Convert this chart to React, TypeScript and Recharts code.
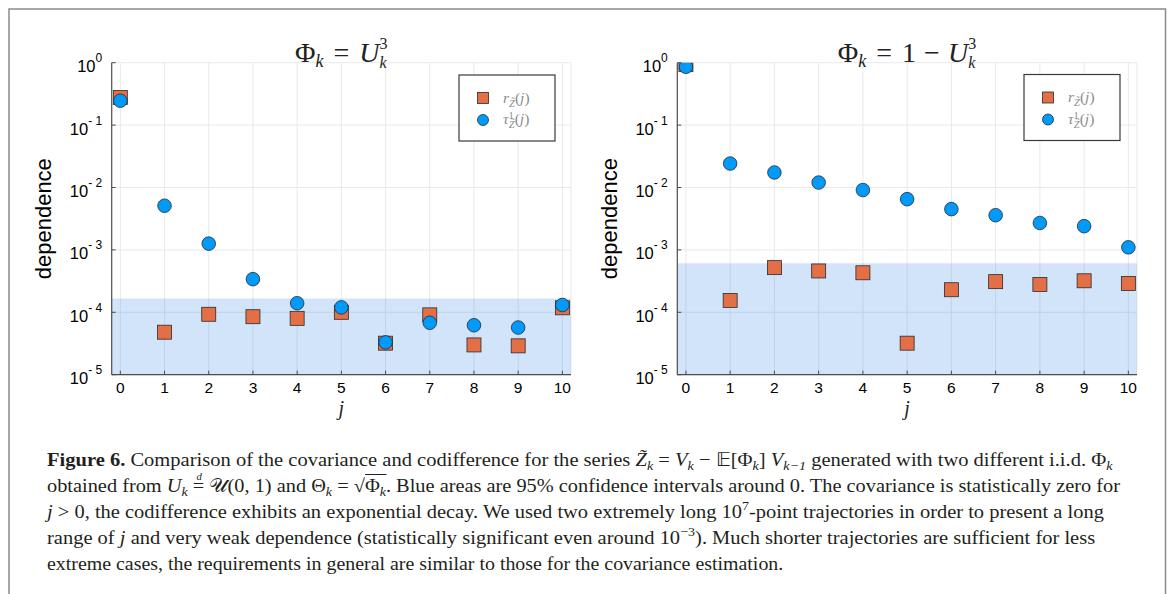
import React, { useLayoutEffect, useRef, useState } from 'react';
import { ScatterChart, Scatter, XAxis, YAxis, CartesianGrid, ReferenceArea } from 'recharts';

// ---------- data ----------
const lags = [0, 1, 2, 3, 4, 5, 6, 7, 8, 9, 10];
const yTicks = [1e-5, 1e-4, 1e-3, 1e-2, 1e-1, 1];

// left panel: Phi_k = U_k^3
const leftCovariance = [0.277, 4.8e-5, 9.3e-5, 8.5e-5, 8.0e-5, 1.0e-4, 3.2e-5, 9.1e-5, 3.0e-5, 2.9e-5, 1.18e-4];
const leftCodifference = [0.246, 5.1e-3, 1.26e-3, 3.4e-4, 1.4e-4, 1.2e-4, 3.3e-5, 6.8e-5, 6.2e-5, 5.7e-5, 1.31e-4];
const leftBandTop = 1.67e-4;

// right panel: Phi_k = 1 - U_k^3
const rightCovariance = [0.93, 1.55e-4, 5.2e-4, 4.6e-4, 4.3e-4, 3.2e-5, 2.3e-4, 3.1e-4, 2.8e-4, 3.2e-4, 2.9e-4];
const rightCodifference = [0.86, 0.0242, 0.0174, 0.012, 0.0091, 0.0065, 0.0045, 0.0036, 0.0027, 0.0024, 0.0011];
const rightBandTop = 6.1e-4;

const bandBottom = 1e-5;

// ---------- styles ----------
const AX = '#4d4d4d';
const ORANGE = '#E26F46';
const BLUE = '#009AFA';
const SANS = '"Liberation Sans", Arial, Helvetica, sans-serif';
const SERIF = '"Liberation Serif", "Times New Roman", serif';

const toPoints = (vals: number[]) => vals.map((v, i) => ({ j: lags[i], v }));

function XTick(props: any) {
  const { x, y, payload } = props;
  return (
    <g>
      <line x1={x} x2={x} y1={y} y2={y - 4} stroke={AX} strokeWidth={1} />
      <text x={x} y={y + 18.5} textAnchor="middle" fontSize={15.5} fontFamily={SANS} fill="#000">
        {payload.value}
      </text>
    </g>
  );
}

function YTick(props: any) {
  const { x, y, payload } = props;
  const e = Math.round(Math.log10(payload.value));
  const sup = e < 0 ? `- ${-e}` : `${e}`;
  return (
    <g>
      <line x1={x} x2={x + 4} y1={y} y2={y} stroke={AX} strokeWidth={1} />
      <text x={x - 9.5} y={y + 9.5} textAnchor="end" fontSize={16.5} fontFamily={SANS} fill="#000">
        10
        <tspan fontSize={12} dy={-10}>
          {sup}
        </tspan>
      </text>
    </g>
  );
}

const renderSquare = (p: any) => (
  <rect x={p.cx - 7} y={p.cy - 7} width={14} height={14} fill={ORANGE} stroke="#2b2b2b" strokeWidth={0.8} />
);
const renderCircle = (p: any) => (
  <circle cx={p.cx} cy={p.cy} r={6.8} fill={BLUE} stroke="#2b2b2b" strokeWidth={0.8} />
);

function Panel({ left, marginLeft, cov, codiff, bandTop }: any) {
  return (
    <div style={{ position: 'absolute', left, top: 0 }}>
      <ScatterChart width={600} height={430} margin={{ top: 62.7, right: 29, bottom: 15.3, left: marginLeft }}>
        <CartesianGrid stroke="#e9e9e9" strokeWidth={1} />
        <ReferenceArea y1={bandBottom} y2={bandTop} fill="#1f77e0" fillOpacity={0.2} stroke="none" ifOverflow="visible" />
        <XAxis
          dataKey="j"
          type="number"
          domain={[-0.195, 10.195]}
          ticks={lags}
          interval={0}
          allowDataOverflow
          tick={<XTick />}
          tickLine={false}
          tickSize={0}
          tickMargin={0}
          height={40}
          axisLine={{ stroke: AX, strokeWidth: 1.2 }}
          label={{
            value: 'j',
            position: 'insideBottom',
            offset: -0.5,
            style: { fontFamily: SERIF, fontStyle: 'italic', fontSize: 20, fill: '#222' },
          }}
        />
        <YAxis
          dataKey="v"
          type="number"
          scale="log"
          domain={[1e-5, 1]}
          ticks={yTicks}
          interval={0}
          allowDataOverflow
          tick={<YTick />}
          tickLine={false}
          tickSize={0}
          tickMargin={0}
          width={100}
          axisLine={{ stroke: AX, strokeWidth: 1.2 }}
          label={{
            value: 'dependence',
            angle: -90,
            position: 'insideLeft',
            offset: 31.5,
            style: { textAnchor: 'middle', fontFamily: SANS, fontSize: 22, fill: '#000' },
          }}
        />
        <Scatter data={toPoints(cov)} shape={renderSquare} isAnimationActive={false} />
        <Scatter data={toPoints(codiff)} shape={renderCircle} isAnimationActive={false} />
      </ScatterChart>
    </div>
  );
}

function LegendBox({ x, y }: { x: number; y: number }) {
  const tc = '#8c8c8c';
  return (
    <g transform={`translate(${x},${y})`}>
      <rect x={0} y={0} width={96} height={66} fill="#fff" stroke="#3a3a3a" strokeWidth={1.2} />
      <rect x={24 - 5.5} y={23 - 5.5} width={11} height={11} fill={ORANGE} stroke="#2b2b2b" strokeWidth={0.8} />
      <circle cx={24} cy={45} r={5.5} fill={BLUE} stroke="#2b2b2b" strokeWidth={0.8} />
      <text x={44} y={27.5} fontFamily={SERIF} fontSize={15.5} fill={tc}>
        <tspan fontStyle="italic">r</tspan>
        <tspan fontSize={10.5} fontStyle="italic" dy={4}>Z̃</tspan>
        <tspan dy={-4}>(</tspan>
        <tspan fontStyle="italic">j</tspan>
        <tspan>)</tspan>
      </text>
      <text x={44} y={49} fontFamily={SERIF} fontSize={15.5} fill={tc}>
        <tspan fontStyle="italic">τ</tspan>
        <tspan fontSize={10.5} dy={-5}>1</tspan>
        <tspan fontSize={10.5} fontStyle="italic" dx={-5} dy={9}>Z̃</tspan>
        <tspan dy={-4}>(</tspan>
        <tspan fontStyle="italic">j</tspan>
        <tspan>)</tspan>
      </text>
    </g>
  );
}

function FitLine({ left, baseline, width, children }: any) {
  const ref = useRef<HTMLDivElement>(null);
  const [s, setS] = useState(1);
  useLayoutEffect(() => {
    if (ref.current) {
      const w = ref.current.offsetWidth;
      if (w > 0) setS(width / w);
    }
  }, [width]);
  return (
    <div
      ref={ref}
      style={{
        position: 'absolute',
        left,
        top: baseline - 18.9,
        whiteSpace: 'nowrap',
        fontFamily: SERIF,
        fontSize: 19,
        lineHeight: '25px',
        color: '#231f20',
        transformOrigin: '0 0',
        transform: `scaleX(${s})`,
      }}
    >
      {children}
    </div>
  );
}

const sub = (t: any, italic = true) => (
  <span style={{ position: 'relative', top: 4, fontSize: 13, lineHeight: 0, fontStyle: italic ? 'italic' : 'normal' }}>{t}</span>
);
const sup = (t: any) => (
  <span style={{ position: 'relative', top: -8, fontSize: 13, lineHeight: 0 }}>{t}</span>
);
const it = (t: any) => <span style={{ fontStyle: 'italic' }}>{t}</span>;

export default function App() {
  return (
    <div style={{ position: 'absolute', left: 0, top: 0, width: 1171, height: 594, background: '#fff', overflow: 'hidden' }}>
      <Panel left={0} marginLeft={11.7} cov={leftCovariance} codiff={leftCodifference} bandTop={leftBandTop} />
      <Panel left={566} marginLeft={11.3} cov={rightCovariance} codiff={rightCodifference} bandTop={rightBandTop} />

      <svg width={1171} height={594} style={{ position: 'absolute', left: 0, top: 0, pointerEvents: 'none' }}>
        <rect x={9} y={9} width={1156.5} height={600} fill="none" stroke="#8a8a8a" strokeWidth={1.5} />

        <text x={341.3} y={61.5} textAnchor="middle" fontFamily={SERIF} fontSize={28} fill="#222">
          <tspan>Φ</tspan>
          <tspan fontSize={18} fontStyle="italic" dy={5}>k</tspan>
          <tspan dy={-5} dx={10}>=</tspan>
          <tspan fontStyle="italic" dx={10}>U</tspan>
          <tspan fontSize={16} dy={-12.5}>3</tspan>
          <tspan fontSize={16} fontStyle="italic" dx={-8} dy={19}>k</tspan>
        </text>

        <text x={907} y={61.5} textAnchor="middle" fontFamily={SERIF} fontSize={28} fill="#222">
          <tspan>Φ</tspan>
          <tspan fontSize={18} fontStyle="italic" dy={5}>k</tspan>
          <tspan dy={-5} dx={10}>=</tspan>
          <tspan dx={10}>1</tspan>
          <tspan dx={8}>−</tspan>
          <tspan fontStyle="italic" dx={8}>U</tspan>
          <tspan fontSize={16} dy={-12.5}>3</tspan>
          <tspan fontSize={16} fontStyle="italic" dx={-8} dy={19}>k</tspan>
        </text>

        <LegendBox x={459} y={75} />
        <LegendBox x={1024} y={74.5} />
      </svg>

      <FitLine left={47} baseline={466} width={1065}>
        <b>Figure 6.</b> Comparison of the covariance and codifference for the series {it('Z̃')}
        {sub('k')} = {it('V')}
        {sub('k')} − 𝔼[Φ{sub('k')}] {it('V')}
        {sub('k−1')} generated with two different i.i.d. Φ{sub('k')}
      </FitLine>
      <FitLine left={47} baseline={492} width={1073}>
        obtained from {it('U')}
        {sub('k')}{' '}
        <span style={{ position: 'relative', display: 'inline-block', lineHeight: 1 }}>
          =
          <span style={{ position: 'absolute', left: 3.5, top: -4, fontSize: 10, lineHeight: 1, fontStyle: 'italic' }}>d</span>
        </span>{' '}
        𝒰(0, 1) and Θ{sub('k')} = √<span style={{ borderTop: '1px solid #231f20' }}>Φ{sub('k')}</span>. Blue areas are 95% confidence
        intervals around 0. The covariance is statistically zero for
      </FitLine>
      <FitLine left={47} baseline={518} width={1057}>
        {it('j')} &gt; 0, the codifference exhibits an exponential decay. We used two extremely long 10{sup('7')}-point
        trajectories in order to present a long
      </FitLine>
      <FitLine left={47} baseline={544} width={1048}>
        range of {it('j')} and very weak dependence (statistically significant even around 10{sup('−3')}). Much shorter
        trajectories are sufficient for less
      </FitLine>
      <FitLine left={47} baseline={570} width={736}>
        extreme cases, the requirements in general are similar to those for the covariance estimation.
      </FitLine>
    </div>
  );
}
